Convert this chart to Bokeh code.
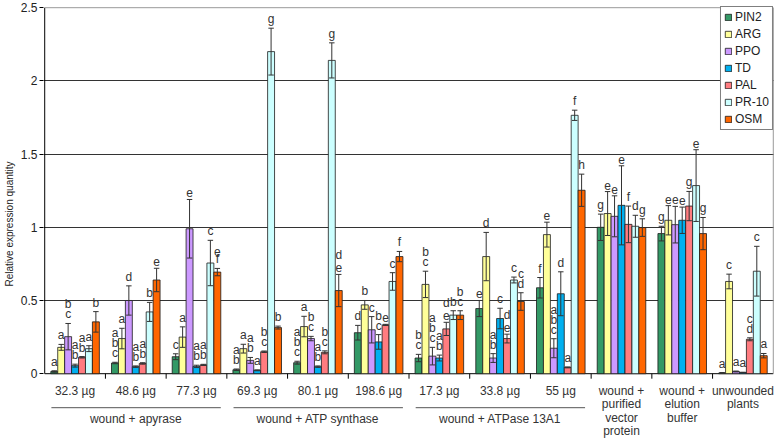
from bokeh.plotting import figure
from bokeh.models import Range1d, FixedTicker, ColumnDataSource
from bokeh.core.properties import value
from bokeh.embed import file_html
from bokeh.resources import INLINE

# ---------------- data ----------------
groups = ["32.3 µg", "48.6 µg", "77.3 µg", "69.3 µg", "80.1 µg", "198.6 µg",
          "17.3 µg", "33.8 µg", "55 µg",
          "wound +\npurified\nvector\nprotein", "wound +\nelution\nbuffer", "unwounded\nplants"]
treatments = ["wound + apyrase", "wound + ATP synthase", "wound + ATPase 13A1"]
treatment_first = [0, 3, 6]
treatment_last = [2, 5, 8]

series = ["PIN2", "ARG", "PPO", "TD", "PAL", "PR-10", "OSM"]
colors = ["#339966", "#FFFF99", "#CC99FF", "#00B0F0", "#FF7C80", "#CCFFFF", "#FF6600"]

pin2 = [0.015, 0.073, 0.116, 0.027, 0.075, 0.28, 0.107, 0.445, 0.587, 1.0, 0.957, 0.005]
pin2_err = [0.005, 0.005, 0.02, 0.005, 0.01, 0.05, 0.025, 0.055, 0.07, 0.09, 0.05, 0.003]
pin2_let = ["a", "abc", "c", "ab", "abc", "d", "bc", "e", "f", "g", "g", "a"]

arg = [0.18, 0.24, 0.25, 0.171, 0.322, 0.47, 0.61, 0.80, 0.95, 1.094, 1.048, 0.63]
arg_err = [0.02, 0.07, 0.07, 0.03, 0.07, 0.03, 0.09, 0.165, 0.085, 0.15, 0.10, 0.05]
arg_let = ["a", "a", "a", "a", "a", "b", "bc", "d", "e", "e", "e", "c"]

ppo = [0.253, 0.5, 0.99, 0.091, 0.24, 0.3, 0.12, 0.107, 0.174, 1.075, 1.018, 0.015]
ppo_err = [0.09, 0.1, 0.2, 0.02, 0.015, 0.09, 0.06, 0.03, 0.065, 0.14, 0.125, 0.003]
ppo_let = ["bc", "d", "e", "ab", "bc", "c", "abc", "ab", "abc", "e", "e", "a"]

td = [0.055, 0.048, 0.05, 0.023, 0.048, 0.217, 0.107, 0.377, 0.546, 1.15, 1.048, 0.008]
td_err = [0.01, 0.005, 0.008, 0.003, 0.005, 0.05, 0.02, 0.07, 0.15, 0.27, 0.09, 0.002]
td_let = ["ab", "ab", "ab", "a", "ab", "bc", "ab", "c", "d", "e", "e", "a"]

pal = [0.112, 0.07, 0.06, 0.15, 0.146, 0.333, 0.306, 0.24, 0.043, 1.02, 1.145, 0.235]
pal_err = [0.005, 0.005, 0.004, 0.005, 0.01, 0.004, 0.045, 0.03, 0.003, 0.125, 0.10, 0.01]
pal_let = ["ab", "ab", "ab", "bc", "bc", "e", "de", "de", "a", "f", "g", "cd"]

pr10 = [0.171, 0.422, 0.756, 2.2, 2.14, 0.63, 0.40, 0.64, 1.765, 1.007, 1.285, 0.70]
pr10_err = [0.02, 0.065, 0.155, 0.16, 0.12, 0.06, 0.03, 0.02, 0.035, 0.075, 0.245, 0.17]
pr10_let = ["a", "b", "c", "g", "g", "c", "b", "c", "f", "d", "e", "c"]

osm = [0.354, 0.64, 0.694, 0.315, 0.568, 0.80, 0.40, 0.493, 1.253, 0.998, 0.957, 0.123]
osm_err = [0.07, 0.08, 0.025, 0.01, 0.11, 0.035, 0.03, 0.06, 0.11, 0.06, 0.11, 0.015]
osm_let = ["b", "e", "ef", "b", "de", "f", "bc", "cd", "h", "g", "g", "a"]

values = [pin2, arg, ppo, td, pal, pr10, osm]
errors = [pin2_err, arg_err, ppo_err, td_err, pal_err, pr10_err, osm_err]
letters = [pin2_let, arg_let, ppo_let, td_let, pal_let, pr10_let, osm_let]

yticks = [0, 0.5, 1, 1.5, 2, 2.5]
gridticks = [0.5, 1, 1.5, 2]
y_label = "Relative expression quantity"

# ---------------- layout ----------------
W, H = 774, 442
TOP_B, BOT_B = 5, 0
PXU = 146.4                      # pixels per y unit
Y1 = 2.515
Y0 = Y1 - (H - TOP_B - BOT_B) / PXU
X0, X1 = -0.02, 12.02
FONT = "Liberation Sans"
ng = len(groups)
ns = len(series)
bw = 0.8 / ns

p = figure(width=W, height=H, x_range=Range1d(X0, X1), y_range=Range1d(Y0, Y1),
           output_backend="svg", toolbar_location=None, x_axis_location=None,
           min_border_top=TOP_B, min_border_bottom=BOT_B, min_border_right=0, min_border_left=34)
p.outline_line_color = None
p.background_fill_color = "white"
p.border_fill_color = "white"

ax = p.yaxis[0]
ax.ticker = FixedTicker(ticks=yticks)
ax.axis_line_color = None
ax.major_tick_out = 4
ax.major_tick_in = 0
ax.minor_tick_line_color = None
ax.major_tick_line_color = "black"
ax.major_label_text_font = FONT
ax.major_label_text_font_size = "12px"
ax.major_label_text_color = "#222222"
ax.major_label_standoff = 2
ax.axis_label = y_label
ax.axis_label_text_font = FONT
ax.axis_label_text_font_size = "10px"
ax.axis_label_text_font_style = "normal"
ax.axis_label_text_color = "#222222"
ax.axis_label_standoff = 3

p.xgrid.visible = False
p.ygrid.ticker = FixedTicker(ticks=gridticks)
p.ygrid.grid_line_color = "#333333"
p.ygrid.grid_line_width = 1

# frame lines
p.segment(x0=[0, 0], y0=[0, 0], x1=[0, ng], y1=[2.5, 0], line_color="black", line_width=1)
p.segment(x0=[0, ng], y0=[2.5, 0], x1=[ng, ng], y1=[2.5, 2.5], line_color="#999999", line_width=1)

# group boundary ticks
p.segment(x0=list(range(1, ng)), y0=[0] * (ng - 1), x1=list(range(1, ng)),
          y1=[-5 / PXU] * (ng - 1), line_color="black", line_width=1)

lx, ly, lo = [], [], []
ex, elo, ehi = [], [], []
for j in range(ns):
    xs = [i + 0.1 + (j + 0.5) * bw for i in range(ng)]
    src = ColumnDataSource(dict(x=xs, top=values[j]))
    p.vbar(x="x", top="top", bottom=0, width=bw, source=src, fill_color=colors[j],
           line_color="#1a1a1a", line_width=0.8, legend_label=series[j])
    for i in range(ng):
        v, e = values[j][i], errors[j][i]
        ex.append(xs[i]); elo.append(v - e); ehi.append(v + e)
        for k, ch in enumerate(reversed(letters[j][i])):
            lx.append(xs[i]); ly.append(v + e); lo.append(-(2 + k * 10))

# error bars
cap = 0.045
p.segment(x0=ex, y0=elo, x1=ex, y1=ehi, line_color="#333333", line_width=1)
p.segment(x0=[x - cap for x in ex], y0=ehi, x1=[x + cap for x in ex], y1=ehi,
          line_color="#333333", line_width=1)
p.segment(x0=[x - cap for x in ex], y0=elo, x1=[x + cap for x in ex], y1=elo,
          line_color="#333333", line_width=1)

# significance letters
letter_text = []
for j in range(ns):
    for i in range(ng):
        letter_text.extend(list(reversed(letters[j][i])))
p.text(x=lx, y=ly, text=letter_text, y_offset=lo, text_align="center", text_baseline="bottom",
       text_font=value(FONT), text_font_size="12px", text_color="#333333")

# group labels
gx, gy, gt, go = [], [], [], []
for i, g in enumerate(groups):
    for k, line in enumerate(g.split("\n")):
        gx.append(i + 0.5); gy.append(0); gt.append(line); go.append(17 + k * 13.5)
p.text(x=gx, y=gy, text=gt, y_offset=go, text_align="center", text_baseline="middle",
       text_font=value(FONT), text_font_size="12px", text_color="#333333")

# treatment brackets
bx0 = [a + 0.11 for a in treatment_first]
bx1 = [b + 1 - 0.1 for b in treatment_last]
p.segment(x0=bx0, y0=[-34 / PXU] * 3, x1=bx1, y1=[-34 / PXU] * 3, line_color="#555555", line_width=1)
p.text(x=[(a + b + 1) / 2 for a, b in zip(treatment_first, treatment_last)], y=[0] * 3,
       text=treatments, y_offset=[45] * 3, text_align="center", text_baseline="middle",
       text_font=value(FONT), text_font_size="12px", text_color="#333333")

# legend
lg = p.legend[0]
lg.location = "top_right"
lg.margin = 1
lg.padding = 3
lg.spacing = 3
lg.glyph_width = 8
lg.glyph_height = 8
lg.label_height = 13
lg.label_standoff = 3
lg.label_text_font = FONT
lg.label_text_font_size = "12px"
lg.label_text_color = "#222222"
lg.border_line_color = "black"
lg.border_line_width = 1
lg.background_fill_alpha = 1

open("out.html", "w").write(file_html(p, INLINE))
